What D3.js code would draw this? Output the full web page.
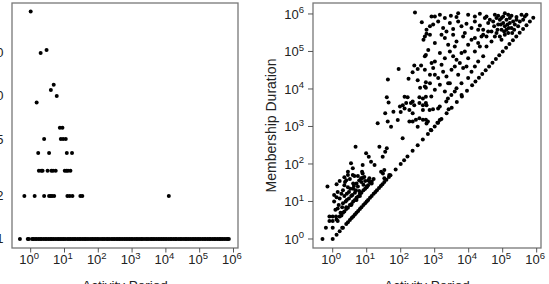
<!DOCTYPE html>
<html>
<head>
<meta charset="utf-8">
<script src="https://cdn.jsdelivr.net/npm/d3@7"></script>
<style>
    html, body { margin: 0; padding: 0; background: #fff; }
    svg { display: block; font-family: "Liberation Sans", Arial, sans-serif; }
</style>
</head>
<body>
<svg id="chart" width="549" height="284"></svg>
<script>
// Left panel: number of repeats (y) against activity period (x)
const repeatLevels = [1, 2, 3, 4, 5, 6, 9, 10, 11, 12, 20, 21, 39];
const periodsAtLevel = [
    [0.48, 0.82, 0.88, 1.1, 1.2, 1.35, 1.5, 1.7, 1.9, 2.1, 2.4, 2.7, 3, 3.4, 3.8, 4.2, 4.7, 5.3, 6, 6.7, 7.5, 8.4, 9.4,
     10.5, 12, 13.5, 15, 17, 19, 21, 24, 27, 30, 34, 38, 42, 47, 53, 60, 67, 75, 84, 94,
     105, 120, 135, 150, 170, 190, 210, 240, 270, 300, 340, 380, 420, 470, 530, 600, 670, 750, 840, 940,
     1050, 1200, 1350, 1500, 1700, 1900, 2100, 2400, 2700, 3000, 3400, 3800, 4200, 4700, 5300, 6000, 6700, 7500, 8400, 9400,
     10500, 12000, 13500, 15000, 17000, 19000, 21000, 24000, 27000, 30000, 34000, 38000, 42000, 47000, 53000, 60000, 67000, 75000, 84000, 94000,
     105000, 120000, 135000, 150000, 170000, 190000, 210000, 240000, 270000, 300000, 340000, 380000, 420000, 470000, 530000, 600000, 670000, 730000],
    [0.65, 1.31, 2.5, 3.5, 3.9, 4.3, 4.95, 12.2, 14.3, 17.2, 29.5, 33.7, 12200],
    [1.75, 2.05, 2.25, 3.16, 4.1, 4.6, 5.5, 10.2, 11.4, 12.7, 15],
    [1.67, 3.5, 11.7, 16.7],
    [2.5, 7.8, 9.1, 10.9],
    [7.3, 8.7],
    [1.5],
    [5.9],
    [3.95],
    [4.8],
    [1.97],
    [2.95],
    [1.0]
];
const leftYTicks = [1, 2, 5, 10, 20];

// Right panel: membership duration against activity period
const diagonalPeriods = [1, 1.3, 1.6, 2, 2.5, 2.8, 3.2, 3.6, 4, 4.5, 5, 5.6, 6.3, 7, 8, 9, 10, 11, 12.5, 14, 16, 18, 20, 23, 26, 29, 33, 38, 45,
    50, 71, 100, 126, 158, 224, 316, 447, 631, 794, 1000, 1260, 1580, 2240, 3160, 4470, 6310, 8910,
    12600, 15800, 20000, 25100, 31600, 39800, 50100, 63100, 79400, 100000, 126000, 158000, 200000, 251000, 316000, 398000, 501000, 631000, 794000];
const streakPoints = [[1.3, 3.3], [1.6, 4], [2, 5], [2.5, 6.3], [3.2, 8], [4, 10], [5, 12.6], [6.3, 16], [8, 20], [10, 25], [12.5, 32], [16, 40],
    [1.8, 4.2], [2.2, 5.4], [2.8, 6.8], [3.6, 8.6], [4.5, 11], [5.6, 13.5], [7, 17], [9, 22], [11, 27], [14, 34],
    [2190, 4600], [2450, 5600], [3090, 6900], [3890, 8500], [6170, 6900]];
const lowerCloud = [[0.5, 1], [0.63, 2], [1, 2], [1.9, 2], [0.8, 3], [1, 3], [1.4, 3], [0.8, 4], [1, 4], [1.25, 4],
    [0.7, 25], [1.3, 29], [2, 20], [2.2, 27], [2.5, 37], [2.8, 51], [3.9, 51], [7.6, 56], [30, 56], [46, 51],
    [1.2, 6], [1.5, 8], [1.1, 10], [1.6, 12], [2, 9], [2.2, 14], [1.8, 16], [2.6, 11], [3, 18], [3.5, 14], [4, 22], [4.5, 17],
    [5, 30], [5.5, 25], [6, 19], [7, 33], [8, 28], [9, 35], [10, 24], [2.3, 33], [3.2, 40], [4, 30], [2.8, 24], [1.4, 18],
    [6.3, 14], [5, 11], [3.5, 8], [2.5, 7], [1.7, 5], [11, 36], [14, 30], [8.5, 45], [5.5, 48], [1.6, 35], [1.1, 15], [1.3, 13],
    [1.4, 6.5], [1.9, 7], [2.4, 10], [3, 12], [3.8, 15], [4.8, 20], [2.6, 16], [3.3, 22], [4.2, 26], [6, 36], [7.5, 42],
    [4.7, 290], [9.6, 193], [11.5, 157], [13.4, 115], [17, 94], [23.6, 290], [35, 213], [39, 263], [29.5, 157], [26.5, 62],
    [33, 69], [7.6, 94], [7.3, 62], [3.9, 77], [3.45, 105], [2.8, 62], [2.2, 44], [4.35, 48], [6.8, 41.5], [12, 41.5], [33, 41.5], [114, 484]];
const middleCloud = [[39, 6000], [44, 4350], [35, 2240], [21, 1220], [41.5, 1350], [52, 980], [61, 2460], [82, 1490],
    [95, 3400], [115, 3700], [145, 4200], [200, 4200], [250, 3700], [355, 4200], [450, 3700], [130, 6200], [160, 6000],
    [225, 4600], [355, 6000], [450, 5600], [550, 6200], [100, 2450], [130, 3000], [180, 2750], [225, 2240], [280, 1500],
    [355, 1650], [450, 1500], [225, 1350], [180, 1350], [316, 980], [550, 1500], [450, 2750], [550, 4200], [794, 6300],
    [575, 3700], [708, 2750], [891, 2900], [1260, 3000], [1410, 3400], [2570, 2900], [631, 1350], [575, 1200],
    [1410, 1480], [1200, 1260], [760, 810],
    [263, 1.1e6], [417, 6e5], [575, 2.95e5], [468, 2.04e5], [550, 8.1e4], [87, 3.4e4], [251, 4.2e4], [398, 4.2e4],
    [316, 3.4e4], [224, 2.8e4], [42, 1.8e4], [170, 1.86e4], [316, 1.7e4], [550, 1.5e4], [372, 1.07e4], [550, 1.07e4]];
const upperCloud = [[1010, 8.6e5], [1420, 9.5e5], [1990, 7.8e5], [2990, 9.0e5], [4380, 8.3e5], [4900, 1.05e6], [9640, 9.5e5],
    [15200, 8.6e5], [21300, 1.01e6], [33400, 8.6e5], [58800, 9.5e5], [92300, 7.8e5], [115600, 1.05e6], [181600, 9.0e5],
    [254700, 8.3e5], [357300, 9.5e5], [447700, 8.6e5], [501200, 9.5e5],
    [52500, 6.3e5], [65800, 7.8e5], [73600, 5.2e5], [82400, 7.0e5], [92300, 3.8e5], [103300, 5.7e5], [115600, 4.7e5],
    [129400, 7.0e5], [144900, 3.1e5], [162200, 5.7e5], [181600, 4.2e5], [203200, 6.3e5], [227500, 5.2e5], [65800, 3.1e5],
    [58800, 2.5e5], [82400, 2.5e5], [115600, 2.8e5], [162200, 7.8e5], [254700, 7.0e5], [285100, 4.7e5], [92300, 2.05e5],
    [46900, 3.4e5], [129400, 3.8e5], [190100, 3.1e5],
    [56000, 4.7e5], [70300, 3.8e5], [88100, 5.2e5], [110400, 3.4e5], [138400, 5.2e5], [151400, 4.2e5], [217300, 3.8e5],
    [319200, 6.3e5], [400000, 7.0e5], [103300, 8.6e5], [144900, 9.5e5], [73600, 9.0e5], [41900, 7.0e5], [29850, 7.8e5],
    [575, 3.8e5], [724, 4.7e5], [1265, 6.3e5], [1770, 4.2e5], [2790, 5.7e5], [3490, 4.0e5], [4900, 6.3e5], [6140, 4.7e5],
    [8610, 5.5e5], [12100, 4.2e5], [15200, 6.3e5], [21300, 4.9e5], [26700, 3.8e5], [37400, 5.7e5],
    [37400, 3.4e5], [23800, 2.5e5], [7690, 3.1e5], [2220, 3.4e5], [900, 5.2e5], [805, 8.6e5], [1585, 2.8e5], [19000, 3.8e5],
    [513, 2.5e5], [724, 2.8e5], [1010, 1.67e5], [1990, 2.3e5], [2490, 1.5e5], [3490, 2.8e5], [4380, 1.85e5], [6870, 2.5e5],
    [9640, 1.5e5], [15200, 2.3e5], [19000, 1.67e5], [26700, 2.8e5], [33400, 1.36e5], [46900, 1.85e5],
    [3900, 1.36e5], [12100, 2.05e5], [21300, 1.36e5], [33400, 2.5e5],
    [513, 7.4e4], [646, 1.1e5], [1010, 5.4e4], [1420, 9.1e4], [1990, 6.6e4], [2790, 1.0e5], [4380, 6.0e4], [6140, 9.1e4],
    [9640, 6.6e4], [15200, 1.0e5], [19000, 5.4e4], [26700, 7.4e4], [7690, 1.0e5], [3490, 7.4e4],
    [810, 4.9e4], [1590, 4.4e4], [3900, 4.0e4], [8610, 4.0e4], [15200, 4.0e4], [5480, 4.9e4],
    [513, 3.25e4], [724, 2.4e4], [902, 3.6e4], [1265, 1.95e4], [1770, 2.9e4], [2220, 2.16e4], [3120, 3.25e4], [4900, 2.4e4],
    [6870, 3.6e4], [9640, 1.95e4], [12100, 2.9e4], [1010, 2.4e4],
    [513, 1.17e4], [724, 1.43e4], [1010, 9500], [1420, 1.29e4], [1990, 8600], [2790, 1.43e4], [4380, 1.05e4], [6140, 1.43e4], [2490, 1.43e4]];

const powerTicks = [0, 1, 2, 3, 4, 5, 6];

const svg = d3.select("#chart");
const tickColor = "#555", frameColor = "#777", textColor = "#222";

function drawFrame(x, y) {
    const [x0, x1] = x.range(), [y0, y1] = y.range();
    svg.append("rect")
        .attr("x", x0).attr("y", y1).attr("width", x1 - x0).attr("height", y0 - y1)
        .attr("fill", "none").attr("stroke", frameColor).attr("stroke-width", 1.3);
}

function drawXAxis(x, y, title) {
    const base = y.range()[0];
    const g = svg.append("g");
    g.selectAll("line").data(powerTicks).join("line")
        .attr("x1", d => x(10 ** d)).attr("x2", d => x(10 ** d))
        .attr("y1", base).attr("y2", base + 4.5)
        .attr("stroke", tickColor);
    const labels = g.selectAll("text").data(powerTicks).join("text")
        .attr("x", d => x(10 ** d) - 1.5).attr("y", base + 16)
        .attr("text-anchor", "middle").attr("fill", textColor).style("font-size", "13px");
    labels.append("tspan").text("10");
    labels.append("tspan").attr("dy", -5.5).style("font-size", "9.5px").text(d => d);
    const [a, b] = x.range();
    svg.append("text").attr("x", (a + b) / 2).attr("y", base + 42)
        .attr("text-anchor", "middle").attr("fill", textColor).style("font-size", "13.5px")
        .text(title);
}

function drawPoints(x, y, points) {
    svg.append("g").selectAll("circle").data(points).join("circle")
        .attr("cx", d => x(d[0])).attr("cy", d => y(d[1]))
        .attr("r", 2).attr("fill", "#000");
}

// ---------- left panel ----------
const xLeft = d3.scaleLog().domain([0.28, 1.36e6]).range([12, 238]);
const yLeft = d3.scaleLog().domain([0.865, 44.7]).range([248, 3]);
const leftPoints = repeatLevels.flatMap((lvl, i) => periodsAtLevel[i].map(p => [p, lvl]));

drawFrame(xLeft, yLeft);
svg.append("g").selectAll("text").data(leftYTicks).join("text")
    .attr("x", 3.5).attr("y", d => yLeft(d) + 4.5)
    .attr("text-anchor", "end").attr("fill", textColor).style("font-size", "13px")
    .text(d => d);
drawXAxis(xLeft, yLeft, "Activity Period");
drawPoints(xLeft, yLeft, leftPoints);

// ---------- right panel ----------
const xRight = d3.scaleLog().domain([0.263, 1.34e6]).range([313, 541]);
const yRight = d3.scaleLog().domain([0.575, 1.96e6]).range([248, 3]);
const rightPoints = diagonalPeriods.map(p => [p, p])
    .concat(streakPoints, lowerCloud, middleCloud, upperCloud);

drawFrame(xRight, yRight);
const gy = svg.append("g");
gy.selectAll("line").data(powerTicks).join("line")
    .attr("x1", 308).attr("x2", 313)
    .attr("y1", d => yRight(10 ** d)).attr("y2", d => yRight(10 ** d))
    .attr("stroke", tickColor);
const yLabels = gy.selectAll("text").data(powerTicks).join("text")
    .attr("x", 304).attr("y", d => yRight(10 ** d) + 5)
    .attr("text-anchor", "end").attr("fill", textColor).style("font-size", "13px");
yLabels.append("tspan").text("10");
yLabels.append("tspan").attr("dy", -5.5).style("font-size", "9.5px").text(d => d);
svg.append("text")
    .attr("transform", `translate(275.5,${(yRight.range()[0] + yRight.range()[1]) / 2}) rotate(-90)`)
    .attr("text-anchor", "middle").attr("fill", textColor).style("font-size", "14px")
    .text("Membership Duration");
drawXAxis(xRight, yRight, "Activity Period");
drawPoints(xRight, yRight, rightPoints);
</script>
</body>
</html>
